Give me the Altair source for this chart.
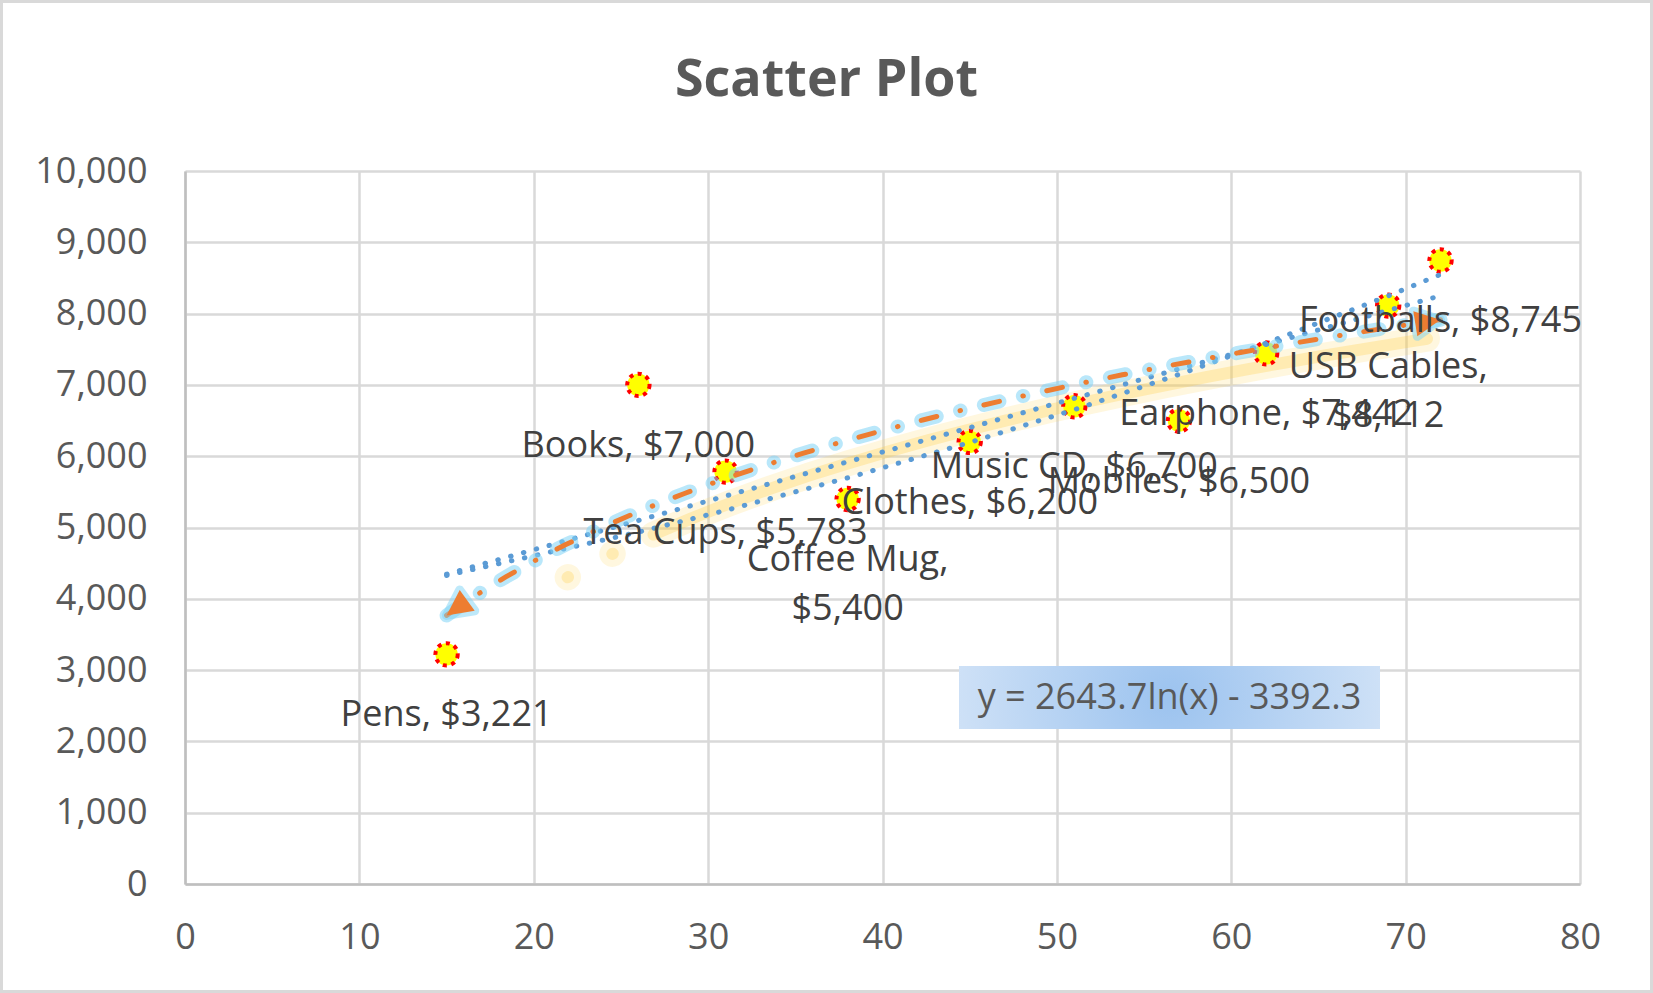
import altair as alt
import pandas as pd

# ---- data ----
products = ["Pens", "Books", "Tea Cups", "Coffee Mug", "Clothes",
            "Music CD", "Mobiles", "Earphone", "USB Cables", "Footballs"]
units = [15, 26, 31, 38, 45, 51, 57, 62, 69, 72]
sales = [3221, 7000, 5783, 5400, 6200, 6700, 6500, 7442, 8112, 8745]
wrapped = ["Coffee Mug", "USB Cables"]          # labels shown on two lines
x_ticks = [0, 10, 20, 30, 40, 50, 60, 70, 80]
y_ticks = [0, 1000, 2000, 3000, 4000, 5000, 6000, 7000, 8000, 9000, 10000]
title_text = "Scatter Plot"

labels = [
    f"{p},{chr(10) if p in wrapped else ' '}${s:,}" for p, s in zip(products, sales)
]
df = pd.DataFrame({"product": products, "units": units, "sales": sales, "label": labels})

FONT = "Open Sans"
W, H = 1395, 713
PAD = {"left": 185, "top": 171, "right": 73, "bottom": 109}

X = alt.X("units:Q", scale=alt.Scale(domain=[0, 80], nice=False, zero=False),
          axis=alt.Axis(values=x_ticks, title=None, labelPadding=36, labelFlush=False))
Y = alt.Y("sales:Q", scale=alt.Scale(domain=[0, 10000], nice=False),
          axis=alt.Axis(values=y_ticks, title=None, format=",d", labelPadding=38))
YFIT = alt.Y("fit:Q", scale=alt.Scale(domain=[0, 10000], nice=False),
             axis=alt.Axis(values=y_ticks, title=None, format=",d", labelPadding=38))

base = alt.Chart(df)

# yellow soft shadow of the log trendline (offset, fading in at the start)
shadow_dash = [0.5, 50, 0.5, 45, 800, 2000]
shadow_off = 2806
shadow_wide = base.transform_regression("units", "sales", method="log").mark_line(
    color="#ffd34d", strokeWidth=26, opacity=0.18, strokeCap="round",
    strokeDash=shadow_dash, strokeDashOffset=shadow_off,
    xOffset=45, yOffset=10).encode(x=X, y=Y)
shadow_core = base.transform_regression("units", "sales", method="log").mark_line(
    color="#ffc933", strokeWidth=12, opacity=0.26, strokeCap="round",
    strokeDash=shadow_dash, strokeDashOffset=shadow_off,
    xOffset=45, yOffset=10).encode(x=X, y=Y)

points = base.mark_point(shape="circle", filled=True, fill="#ffff00", fillOpacity=1,
                         stroke="#ff0000", strokeWidth=4, strokeDash=[4, 4.6],
                         size=500, opacity=1).encode(x=X, y=Y)

dot_style = dict(color="#5b9bd5", strokeWidth=5, strokeDash=[0.5, 12.8], strokeCap="round")
linear = base.transform_regression("units", "sales", method="linear").mark_line(
    **dot_style).encode(x=X, y=Y)
# exponential trend, least squares on ln(y) (as spreadsheet trendlines do)
expo = base.transform_calculate(
    ly="log(datum.sales)", xly="datum.units * log(datum.sales)", xx="datum.units * datum.units"
).transform_joinaggregate(
    mx="mean(units)", mly="mean(ly)", mxly="mean(xly)", mxx="mean(xx)"
).transform_calculate(
    b="(datum.mxly - datum.mx * datum.mly) / (datum.mxx - datum.mx * datum.mx)"
).transform_calculate(
    fit="exp(datum.mly + datum.b * (datum.units - datum.mx))"
).mark_line(**dot_style).encode(x=X, y=YFIT)

dash = [16, 24, 0.5, 24]
log_glow = base.transform_regression("units", "sales", method="log").mark_line(
    color="#7fd4f6", strokeWidth=14, opacity=0.55, strokeDash=dash, strokeCap="round"
).encode(x=X, y=Y)
log_line = base.transform_regression("units", "sales", method="log").mark_line(
    color="#ed7d31", strokeWidth=5, strokeDash=dash, strokeCap="round"
).encode(x=X, y=Y)

# arrowheads at both ends of the log trendline (tip at the path origin, pointing up)
ARROW = "M0,0 L0.75,1.5 L-0.75,1.5 Z"
arrow_src = base.transform_regression("units", "sales", method="log").transform_joinaggregate(
    lo="min(units)", hi="max(units)"
).transform_filter("datum.units == datum.lo || datum.units == datum.hi").transform_calculate(
    ang="datum.units == datum.lo ? 234 : 81"
)
arrow_glow = arrow_src.mark_point(shape=ARROW, filled=True, fill="#7fd4f6", stroke="#7fd4f6",
                                  strokeWidth=9, strokeJoin="round", size=1156,
                                  opacity=0.5).encode(
    x=X, y=Y, angle=alt.Angle("ang:Q", scale=None))
arrows = arrow_src.mark_point(shape=ARROW, filled=True, color="#ed7d31",
                              size=1156, opacity=1).encode(
    x=X, y=Y, angle=alt.Angle("ang:Q", scale=None))

texts = base.mark_text(font=FONT, fontSize=36, color="#404040", align="center",
                       baseline="alphabetic", dy=72, lineBreak="\n", lineHeight=49
                       ).encode(x=X, y=Y, text="label:N")

eq_src = base.transform_regression("units", "sales", method="log", params=True).transform_calculate(
    eq="'y = ' + format(datum.coef[1], '.1f') + 'ln(x) - ' + format(-datum.coef[0], '.1f')",
    ttl=f"'{title_text}'"
)
eq_box = eq_src.mark_rect(
    fill=alt.RadialGradient(gradient="radial", x1=0.5, y1=0.5, r1=0, x2=0.5, y2=0.5, r2=0.75,
                            stops=[alt.GradientStop(offset=0, color="#9cc3ef"),
                                   alt.GradientStop(offset=1, color="#e6effa")])
).encode(x=alt.value(774), x2=alt.value(1195), y=alt.value(495), y2=alt.value(558))
eq_text = eq_src.mark_text(font=FONT, fontSize=36, color="#595959", align="center",
                           baseline="middle").encode(
    x=alt.value(984.5), y=alt.value(527), text="eq:N")

# chart title, centred on the whole figure
title = eq_src.mark_text(font=FONT, fontSize=52, fontWeight="bold", color="#595959",
                         align="center", baseline="middle").encode(
    x=alt.value(826.5 - PAD["left"]), y=alt.value(80 - PAD["top"]), text="ttl:N")

border = eq_src.mark_rect(fillOpacity=0, stroke="#d9d9d9", strokeWidth=3).encode(
    x=alt.value(-PAD["left"] + 1.5), x2=alt.value(W + PAD["right"] - 1.5),
    y=alt.value(-PAD["top"] + 1.5), y2=alt.value(H + PAD["bottom"] - 1.5))

chart = alt.layer(
    shadow_wide, shadow_core, points, linear, expo, log_glow, log_line,
    arrow_glow, arrows, texts, eq_box, eq_text, title, border
).properties(
    width=W, height=H,
    autosize=alt.AutoSizeParams(type="none"),
    padding=PAD,
    background="white",
).configure_view(strokeWidth=0).configure_axis(
    gridColor="#d9d9d9", gridWidth=2.5, domainColor="#bfbfbf", domainWidth=2.5,
    ticks=False, tickSize=0, labelFont=FONT, labelFontSize=36, labelColor="#595959"
)

chart.save("out.html", embed_options={"renderer": "svg", "actions": False})
